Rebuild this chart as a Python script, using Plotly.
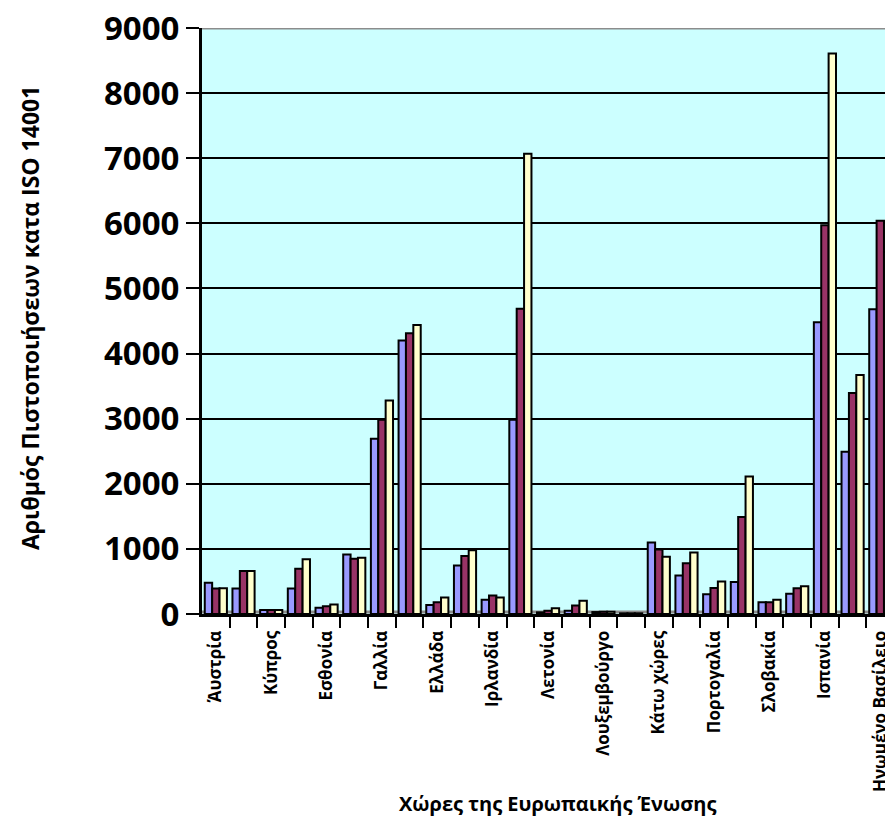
import plotly.graph_objects as go

# Categories (EU countries); only every other label is shown on the axis, as in the reference
categories = [
    "Άυστρία", "Βέλγιο", "Κύπρος", "Δανία", "Εσθονία", "Φινλανδία", "Γαλλία",
    "Γερμανία", "Ελλάδα", "Ουγγαρία", "Ιρλανδία", "Ιταλία", "Λετονία", "Λιθουανία",
    "Λουξεμβούργο", "Μάλτα", "Κάτω χώρες", "Πολωνία", "Πορτογαλία", "Τσεχία",
    "Σλοβακία", "Σλοβενία", "Ισπανία", "Σουηδία", "Ηνωμένο Βασίλειο",
]
shown_labels = [
    "Άυστρία", "Κύπρος", "Εσθονία", "Γαλλία", "Ελλάδα", "Ιρλανδία", "Λετονία",
    "Λουξεμβούργο", "Κάτω χώρες", "Πορτογαλία", "Σλοβακία", "Ισπανία", "Ηνωμένο Βασίλειο",
]

series_1 = [480, 390, 60, 390, 95, 915, 2690, 4200, 140, 745, 220, 2985,
            25, 50, 30, 10, 1100, 590, 305, 490, 180, 310, 4480, 2490, 4680]
series_2 = [390, 660, 60, 695, 120, 850, 2985, 4310, 180, 890, 285, 4690,
            50, 130, 35, 10, 990, 780, 400, 1490, 180, 395, 5970, 3395, 6040]
series_3 = [395, 660, 60, 840, 145, 865, 3280, 4440, 255, 980, 255, 7070,
            90, 205, 35, 10, 880, 945, 500, 2110, 220, 425, 8610, 3670, 5560]

series_names = ["Σειρά1", "Σειρά2", "Σειρά3"]
series_colors = ["#9999FF", "#993366", "#FFFFCC"]

y_ticks = [0, 1000, 2000, 3000, 4000, 5000, 6000, 7000, 8000, 9000]

x_pos = list(range(1, len(categories) + 1))
label_pos = [x_pos[categories.index(lbl)] for lbl in shown_labels]
boundaries = [p + 0.5 for p in x_pos]

fig = go.Figure()
for name, vals, col in zip(series_names, [series_1, series_2, series_3], series_colors):
    fig.add_trace(go.Bar(
        x=x_pos, y=vals, name=name,
        marker=dict(color=col, line=dict(color="black", width=2)),
        showlegend=False,
        hovertext=categories,
    ))

FONT = "Open Sans"
W, H = 885, 830
LEFT, TOP = 202, 28
PLOT_W = W - LEFT
PLOT_H = 586

fig.update_layout(
    width=W, height=H,
    margin=dict(l=LEFT, r=0, t=TOP, b=H - TOP - PLOT_H, autoexpand=False),
    paper_bgcolor="white",
    plot_bgcolor="#CCFFFF",
    barmode="group",
    bargap=0.2,
    bargroupgap=0.0,
    font=dict(family=FONT, color="black"),
    xaxis=dict(
        range=[0.5, 25.17],
        automargin=False,
        tickmode="array",
        tickvals=label_pos,
        ticktext=shown_labels,
        tickangle=-90,
        ticklabeloverflow="allow",
        ticks="outside",
        ticklen=7,
        tickcolor="rgba(0,0,0,0)",
        tickfont=dict(family=FONT, size=17, weight="bold", color="black"),
        showgrid=False,
        zeroline=False,
        showline=True,
        linecolor="black",
        linewidth=3,
        minor=dict(tickmode="array", tickvals=boundaries, ticks="outside",
                   ticklen=11, tickwidth=2, tickcolor="black", showgrid=False),
    ),
    yaxis=dict(
        range=[0, 9000],
        automargin=False,
        tickmode="array",
        tickvals=y_ticks,
        ticks="outside",
        ticklen=13,
        tickwidth=2,
        tickcolor="black",
        ticklabeloverflow="allow",
        tickfont=dict(family=FONT, size=33, weight="bold", color="black"),
        showgrid=True,
        gridcolor="black",
        gridwidth=2,
        zeroline=False,
        showline=True,
        linecolor="black",
        linewidth=3,
    ),
    shapes=[
        dict(type="line", xref="paper", yref="y", x0=0, x1=1, y0=9000, y1=9000,
             line=dict(color="#8C8C8C", width=3), layer="above"),
        dict(type="line", xref="paper", yref="y", x0=0, x1=1, y0=30, y1=30,
             line=dict(color="#8C8C8C", width=3), layer="below"),
    ],
    annotations=[
        dict(text="Αριθμός Πιστοποιήσεων κατα ISO 14001", xref="paper", yref="paper",
             x=(30 - LEFT) / PLOT_W, y=(614 - 318) / PLOT_H, xanchor="center", yanchor="middle",
             textangle=-90, showarrow=False,
             font=dict(family=FONT, size=23, weight="bold", color="black")),
        dict(text="Χώρες της Ευρωπαικής Ένωσης", xref="paper", yref="paper",
             x=(557 - LEFT) / PLOT_W, y=(614 - 803) / PLOT_H, xanchor="center", yanchor="middle",
             showarrow=False,
             font=dict(family=FONT, size=20, weight="bold", color="black")),
    ],
)

fig.write_html("out.html", config={"displayModeBar": False},
               post_script="document.body.style.margin='0';")
